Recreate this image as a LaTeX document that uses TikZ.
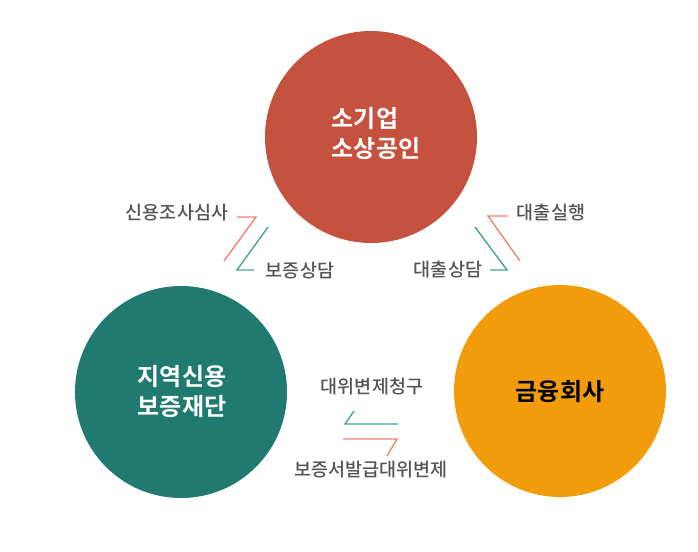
\documentclass[tikz,border=0pt]{standalone}
\usepackage{fontspec}
\setmainfont{Noto Sans CJK KR}
\newfontfamily\boldkr{Noto Sans CJK KR Bold}
\newfontfamily\mediumkr{Noto Sans CJK KR Medium}
\definecolor{brick}{HTML}{C5523F}
\definecolor{deepteal}{HTML}{217A70}
\definecolor{amber}{HTML}{F39C0B}
\definecolor{salmon}{HTML}{EE8272}
\definecolor{lineteal}{HTML}{4AA398}
\definecolor{labelgray}{HTML}{555555}
\tikzset{
  party/.style={circle, minimum size=212pt, inner sep=0pt},
  partytext/.style={font=\boldkr\fontsize{24}{30}\selectfont},
  flowlabel/.style={text=labelgray, font=\mediumkr\fontsize{18.5}{20}\selectfont, inner sep=0pt},
  redarrow/.style={salmon, line width=1.4pt},
  tealarrow/.style={lineteal, line width=1.4pt}
}
\begin{document}
\begin{tikzpicture}[x=1pt,y=-1pt]
    \useasboundingbox (0,0) rectangle (698,551);
    % the three parties
    \node[party, fill=brick] (firm) at (371,137) {};
    \node[party, fill=deepteal] (fund) at (181,392) {};
    \node[party, fill=amber] (bank) at (560,391) {};
    \node[partytext, text=white, align=left] (firmtext) at (376,134) {소기업\\소상공인};
    \node[partytext, text=white, align=center] (fundtext) at (182,392) {지역신용\\보증재단};
    \node[partytext, text=black] (banktext) at (560,392) {금융회사};
    % labels
    \node[flowlabel] (check) at (177,213) {신용조사심사};
    \node[flowlabel] (guide) at (300,271) {보증상담};
    \node[flowlabel] (loan) at (551,213) {대출실행};
    \node[flowlabel] (loanguide) at (448,270) {대출상담};
    \node[flowlabel] (claim) at (372,387) {대위변제청구};
    \node[flowlabel] (issue) at (371,470) {보증서발급대위변제};
    % firm -- fund
    \draw[redarrow] (237,217) -- (256,217) -- (224,261);
    \draw[tealarrow] (268,227) -- (237,270) -- (254,270);
    % firm -- bank
    \draw[redarrow] (508,216) -- (488,216) -- (520,261);
    \draw[tealarrow] (475,227) -- (507,270) -- (490,270);
    % fund -- bank
    \draw[tealarrow] (354,411) -- (345,424) -- (398,424);
    \draw[redarrow] (343,439) -- (397,439) -- (387,456);
\end{tikzpicture}
\end{document}
